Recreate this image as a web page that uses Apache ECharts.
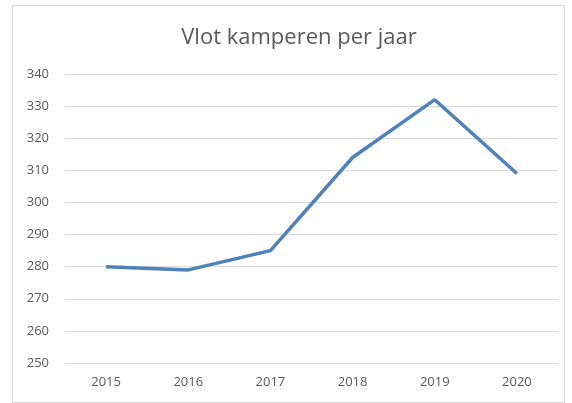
<!DOCTYPE html>
<html>
<head>
<meta charset="utf-8">
<script src="https://cdn.jsdelivr.net/npm/echarts@6/dist/echarts.min.js"></script>
<style>
  html, body { margin: 0; padding: 0; background: #ffffff; }
  .frame {
    position: absolute;
    left: 12px; top: 5px;
    width: 553px; height: 398px;
    border: 1px solid #d9d9d9;
    box-sizing: border-box;
  }
  #chart { position: absolute; left: 0; top: 0; width: 572px; height: 403px; }
</style>
</head>
<body>
<div class="frame"></div>
<div id="chart"></div>
<script>
const years = ["2015", "2016", "2017", "2018", "2019", "2020"];
const kampeerders = [280, 279, 285, 314, 332, 309];

const chart = echarts.init(document.getElementById("chart"));
chart.setOption({
  animation: false,
  title: {
    text: "Vlot kamperen per jaar",
    left: 294,
    top: 22,
    textAlign: "center",
    textStyle: {
      fontFamily: "Open Sans",
      fontSize: 22,
      fontWeight: "normal",
      color: "#595959"
    }
  },
  grid: { left: 65, right: 14, top: 74, bottom: 40 },
  xAxis: {
    type: "category",
    data: years,
    axisLine: { show: false },
    axisTick: { show: false },
    axisLabel: { color: "#595959", fontSize: 13, fontFamily: "Open Sans", margin: 13 }
  },
  yAxis: {
    type: "value",
    min: 250,
    max: 340,
    interval: 10,
    axisLine: { show: false },
    axisTick: { show: false },
    axisLabel: { color: "#595959", fontSize: 13, fontFamily: "Open Sans", margin: 16 },
    splitLine: { lineStyle: { color: "#d9d9d9", width: 1 } }
  },
  series: [
    {
      type: "line",
      data: kampeerders,
      symbol: "none",
      lineStyle: { color: "#4f81bd", width: 3.5 }
    }
  ]
});
</script>
</body>
</html>
